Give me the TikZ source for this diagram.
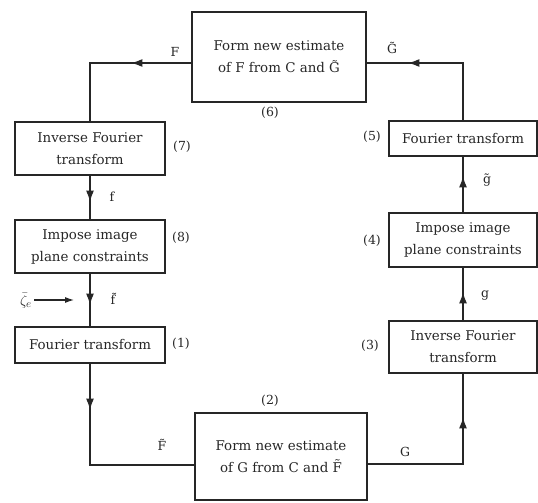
\documentclass[tikz,border=0pt]{standalone}
\usepackage{fontspec}
\setmainfont{DejaVu Serif}
\usetikzlibrary{arrows.meta,decorations.markings}
\definecolor{ink}{HTML}{262626}
\newcommand\boxfont{\fontsize{13.4}{22}\selectfont}
\newcommand\labfont{\fontsize{12.5}{14}\selectfont}
\begin{document}
\begin{tikzpicture}[x=1pt,y=-1pt,
  box/.style={draw=ink, line width=1.2pt, align=center, inner sep=0pt, text=ink, font=\boxfont},
  lab/.style={inner sep=0pt, text=ink, font=\labfont},
  flow/.style={draw=ink, line width=1.2pt},
  midarrow/.style={postaction={decorate}, decoration={markings, mark=at position #1 with {\arrow[ink]{Latex[length=11pt,width=8pt]}}}},
]
\useasboundingbox (0,0) rectangle (538,503);
% boxes
\node[box, minimum width=174pt, minimum height=90pt] (b6) at (279,57) {Form new estimate\\of F from C and G̃};
\node[box, minimum width=150pt, minimum height=53pt] (b7) at (90,148.5) {Inverse Fourier\\transform};
\node[box, minimum width=150pt, minimum height=53pt] (b8) at (90,246.5) {Impose image\\plane constraints};
\node[box, minimum width=150pt, minimum height=36pt] (b1) at (90,345) {Fourier transform};
\node[box, minimum width=172pt, minimum height=87pt] (b2) at (281,456.5) {Form new estimate\\of G from C and F̃};
\node[box, minimum width=148pt, minimum height=52pt] (b3) at (463,347) {Inverse Fourier\\transform};
\node[box, minimum width=148pt, minimum height=54pt] (b4) at (463,240) {Impose image\\plane constraints};
\node[box, minimum width=148pt, minimum height=35pt] (b5) at (463,138.5) {Fourier transform};
% corners
\coordinate (cTL) at (90,63);
\coordinate (cTR) at (463,63);
\coordinate (cBL) at (90,465);
\coordinate (cBR) at (463,464);
\coordinate (zs) at (34,300);
\coordinate (zt) at (74,300);
% connectors
\draw[flow, midarrow=60pt] (b6.west |- cTL) -- (cTL) -- (b7.north);
\draw[flow, midarrow=26pt] (b7.south) -- (b8.north);
\draw[flow, midarrow=31pt] (b8.south) -- (b1.north);
\draw[flow, midarrow=46pt] (b1.south) -- (cBL) -- (b2.west |- cBL);
\draw[flow, midarrow=142pt] (b2.east |- cBR) -- (cBR) -- (b3.south);
\draw[flow, midarrow=28pt] (b3.north) -- (b4.south);
\draw[flow, midarrow=36pt] (b4.north) -- (b5.south);
\draw[flow, midarrow=112pt] (b5.north) -- (cTR) -- (b6.east |- cTR);
% noise input
\node[lab, font=\fontsize{15}{16}\selectfont, anchor=east] (zeta) at (32,301) {$\bar{\zeta}_e$};
\draw[draw=ink, line width=1.1pt, -{Latex[length=9pt,width=6pt]}] (zs) -- (zt);
% signal labels
\node[lab] (lF) at (175,52) {F};
\node[lab] (lf) at (112,197) {f};
\node[lab] (lft) at (113,299) {f̃};
\node[lab] (lFt) at (162,445) {F̃};
\node[lab] (lG) at (405,452) {G};
\node[lab] (lg) at (485,296) {g};
\node[lab] (lgt) at (487,180) {g̃};
\node[lab] (lGt) at (392,48) {G̃};
% step numbers
\node[lab] (n1) at (181,344) {(1)};
\node[lab] (n2) at (270,401) {(2)};
\node[lab] (n3) at (370,346) {(3)};
\node[lab] (n4) at (372,241) {(4)};
\node[lab] (n5) at (372,137) {(5)};
\node[lab] (n6) at (270,113) {(6)};
\node[lab] (n7) at (182,147) {(7)};
\node[lab] (n8) at (181,238) {(8)};
\end{tikzpicture}
\end{document}
